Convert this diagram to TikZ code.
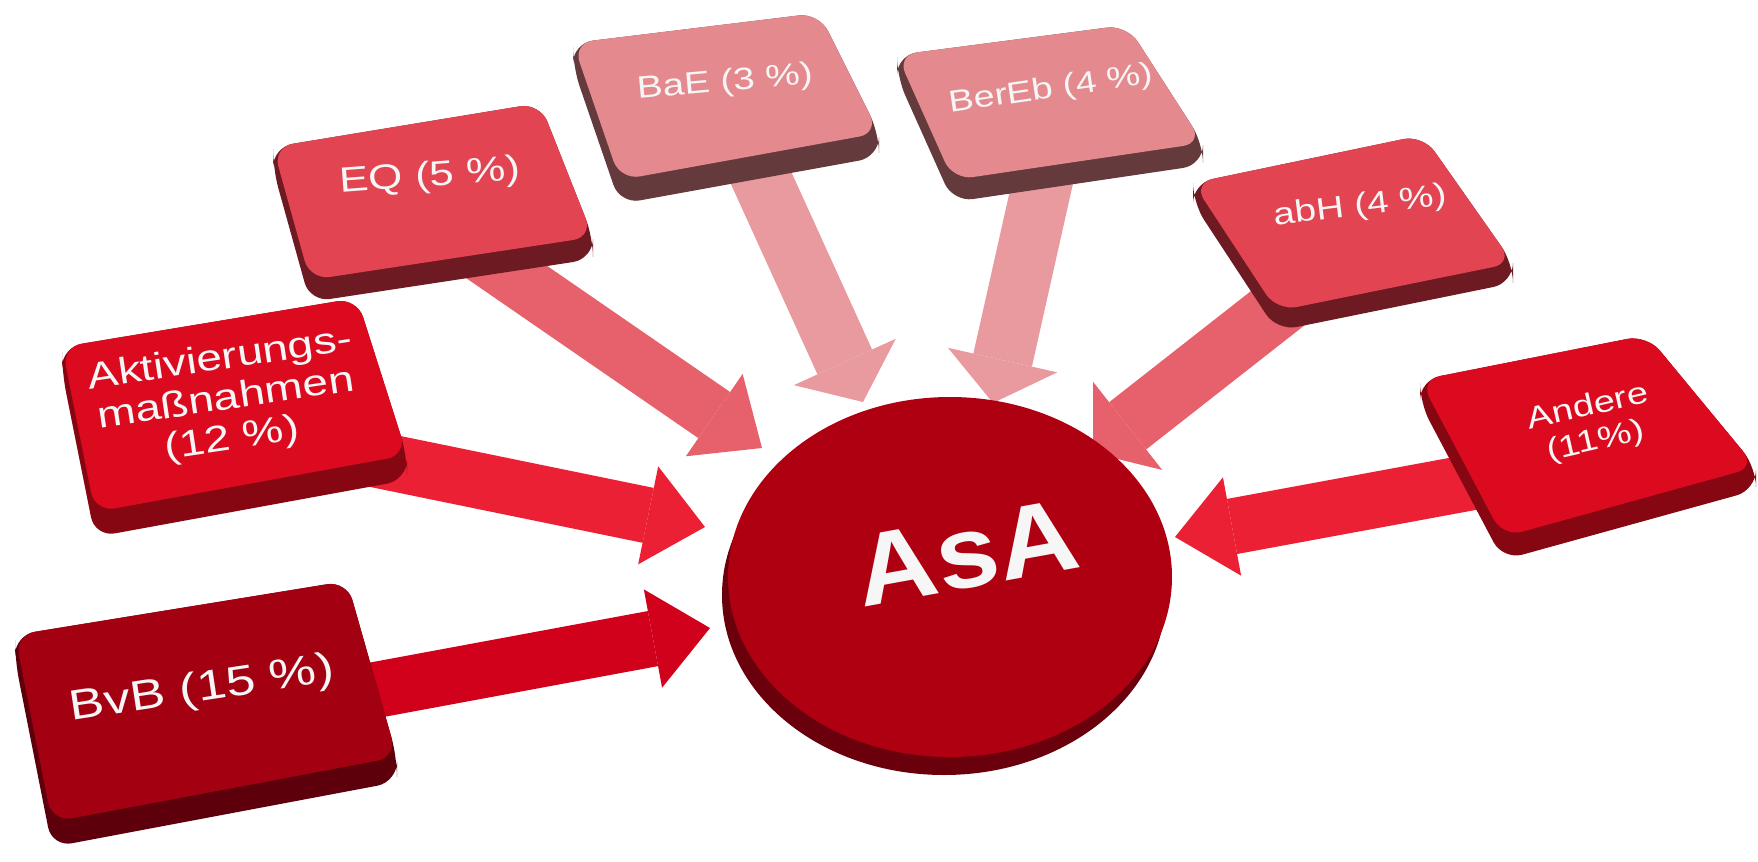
\documentclass[tikz,border=0pt]{standalone}
\usepackage{fontspec}
\setmainfont{Liberation Sans}
\newfontfamily\capfont[FakeStretch=1.25]{Liberation Sans}
\newfontfamily\discfont[FakeStretch=1.1]{Liberation Sans}
\usetikzlibrary{arrows.meta}

\definecolor{darkface}{HTML}{A30012}
\definecolor{darkside}{HTML}{5E000C}
\definecolor{redface}{HTML}{DC0A1E}
\definecolor{redside}{HTML}{860612}
\definecolor{roseface}{HTML}{E34452}
\definecolor{roseside}{HTML}{6E1A22}
\definecolor{paleface}{HTML}{E48A8F}
\definecolor{paleside}{HTML}{643A3D}
\definecolor{discface}{HTML}{AF0012}
\definecolor{discside}{HTML}{6A000B}
\definecolor{darkarrow}{HTML}{D1001B}
\definecolor{redarrow}{HTML}{EC2034}
\definecolor{rosearrow}{HTML}{E6616B}
\definecolor{palearrow}{HTML}{E89A9E}
\definecolor{letterface}{HTML}{F6F6F6}

\tikzstyle{bigarrow} = [line width=5.6mm, -{Triangle[width=10mm,length=5.8mm,line width=0pt]}]
\tikzstyle{flatarrow} = [line width=6mm, -{Triangle[width=11.2mm,length=4.4mm,line width=0pt]}]
\tikzstyle{caption} = [text=letterface, align=center, inner sep=0pt]

% key: corners TL, TR, BR, BL, depth, face, side
\newcommand{\keycap}[7]{%
  \fill[#7, rounded corners=2mm] (#1) -- ([yshift=-#5]#1) -- ([yshift=-#5]#4) -- ([yshift=-#5]#3) -- (#3) -- (#2) -- cycle;
  \fill[#6, rounded corners=2mm] (#1) -- (#2) -- (#3) -- (#4) -- cycle;}

\begin{document}
\begin{tikzpicture}[x=0.1mm, y=-0.1mm]
	\useasboundingbox (0,0) rectangle (1758,862);
	% arrows, start under the keys
	\coordinate (bvb-out) at (300,704);
	\coordinate (bvb-in) at (710,628);
	\coordinate (akt-out) at (300,444);
	\coordinate (akt-in) at (705,527);
	\coordinate (eq-out) at (466,244);
	\coordinate (eq-in) at (762,448);
	\coordinate (bae-out) at (747,147);
	\coordinate (bae-in) at (863,402);
	\coordinate (bereb-out) at (1050,149);
	\coordinate (bereb-in) at (993,403);
	\coordinate (abh-out) at (1329,268);
	\coordinate (abh-in) at (1093,453);
	\coordinate (andere-out) at (1500,477);
	\coordinate (andere-in) at (1175,537);
	\draw [bigarrow, darkarrow] (bvb-out) -- (bvb-in);
	\draw [bigarrow, redarrow] (akt-out) -- (akt-in);
	\draw [bigarrow, rosearrow] (eq-out) -- (eq-in);
	\draw [flatarrow, palearrow] (bae-out) -- (bae-in);
	\draw [flatarrow, palearrow] (bereb-out) -- (bereb-in);
	\draw [flatarrow, rosearrow] (abh-out) -- (abh-in);
	\draw [bigarrow, redarrow] (andere-out) -- (andere-in);
	% keys
	\keycap{573,43}{819,13}{879,133}{620,180}{2.4mm}{paleface}{paleside}
	\keycap{897,55}{1127,25}{1203,143}{953,180}{2.2mm}{paleface}{paleside}
	\keycap{273,147}{540,103}{593,237}{310,280}{2.2mm}{roseface}{roseside}
	\keycap{1193,183}{1423,135}{1513,263}{1277,311}{2.0mm}{roseface}{roseside}
	\keycap{62,347}{357,298}{407,455}{95,512}{2.5mm}{redface}{redside}
	\keycap{1420,380}{1647,335}{1756,467}{1503,537}{2.3mm}{redface}{redside}
	\keycap{15,635}{347,581}{397,757}{52,822}{2.5mm}{darkface}{darkside}
	% disc
	\fill[discside] (944,595) ellipse [x radius=222, y radius=180];
	\fill[discface] (950,577) ellipse [x radius=222, y radius=180];
	% labels
	\node (bvb) [caption, rotate=8.6, font=\capfont\fontsize{12pt}{13pt}\selectfont] at (202,690) {BvB (15 \%)};
	\node (akt) [caption, rotate=8.5, font=\capfont\fontsize{10.5pt}{11.5pt}\selectfont] at (226,400) {Aktivierungs-\\maßnahmen\\(12 \%)};
	\node (eq) [caption, rotate=4.3, font=\capfont\fontsize{10pt}{11pt}\selectfont] at (430,177) {EQ (5 \%)};
	\node (bae) [caption, rotate=5, font=\capfont\fontsize{8.8pt}{10pt}\selectfont] at (725,83) {BaE (3 \%)};
	\node (bereb) [caption, rotate=8.3, font=\capfont\fontsize{8.6pt}{10pt}\selectfont] at (1051,90) {BerEb (4 \%)};
	\node (abh) [caption, rotate=7, font=\capfont\fontsize{8.8pt}{10pt}\selectfont] at (1360,207) {abH (4 \%)};
	\node (andere) [caption, rotate=13, font=\capfont\fontsize{8.7pt}{10pt}\selectfont] at (1592,425) {Andere\\(11\%)};
	\node (asa) [caption, rotate=10.3, font=\discfont\bfseries\fontsize{29pt}{30pt}\selectfont] at (967,553) {AsA};
\end{tikzpicture}
\end{document}
